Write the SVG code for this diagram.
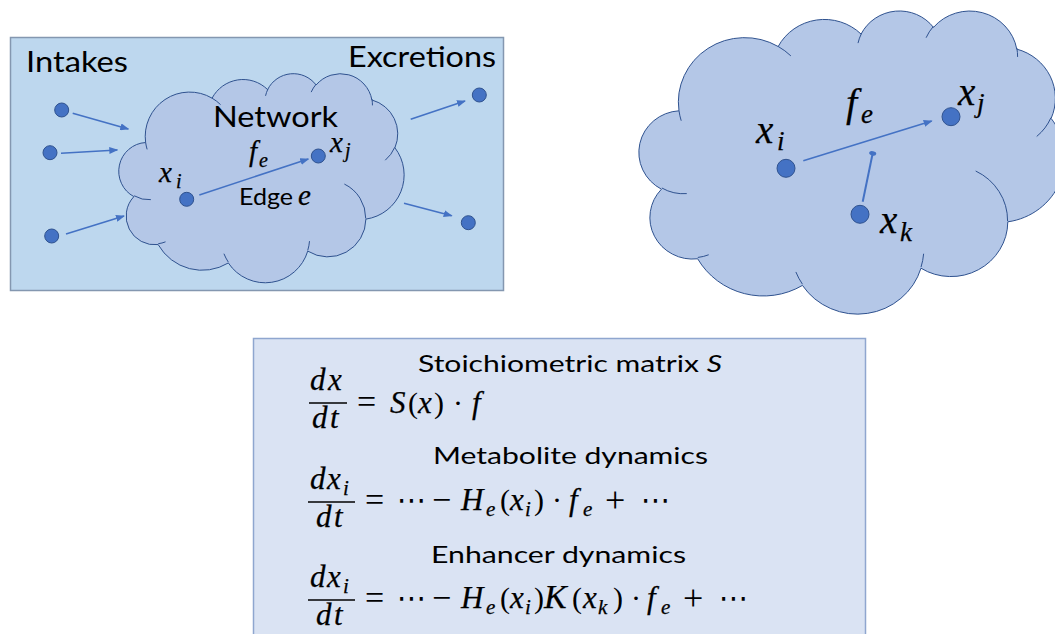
<svg xmlns="http://www.w3.org/2000/svg" width="1055" height="634" viewBox="0 0 1055 634">
  <style>
    .panel { fill: #BDD7EE; stroke: #8497B0; stroke-width: 1.5; }
    .eqbox { fill: #DAE3F3; stroke: #8FA6CF; stroke-width: 1.5; }
    .cloud { fill: #B4C7E7; stroke: #2F528F; }
    .cloud-in { fill: none; stroke: #2F528F; }
    .dot { fill: #4472C4; stroke: #2F528F; stroke-width: 1; }
    .arrow { fill: none; stroke: #4472C4; stroke-width: 1.6; marker-end: url(#tri); }
    .lbl { font-family: Lato, "Liberation Sans", sans-serif; fill: #000; }
    .m { font-family: "Liberation Serif", serif; font-style: italic; fill: #000; stroke: #000; stroke-width: 0.25; }
    .op { font-family: "Liberation Serif", serif; font-style: normal; fill: #000; }
    .dots { font-family: "DejaVu Sans", sans-serif; fill: #000; }
    .bar { stroke: #000; stroke-width: 1.6; }
  </style>
  <defs>
    <marker id="tri" markerUnits="userSpaceOnUse" markerWidth="9" markerHeight="7" refX="8" refY="3.5" orient="auto">
      <path d="M0,0 L9,3.5 L0,7 Z" fill="#4472C4"/>
    </marker>
    <marker id="oval" markerUnits="userSpaceOnUse" markerWidth="8" markerHeight="10" refX="4" refY="5" orient="auto">
      <ellipse cx="4" cy="5" rx="2.2" ry="3.6" fill="#4472C4"/>
    </marker>
    <!-- cloud outline in a 43200 x 43200 frame; stroke stays 1px after scaling -->
    <path id="cloudShape" vector-effect="non-scaling-stroke" stroke-width="1" d="M3900,14370 A6753,9190 0 0 1 14005,5202 A5333,7267 0 0 1 22455,3432 A4365,5945 0 0 1 29832,2480 A4857,6595 0 0 1 38317,5576 A5333,7273 0 0 1 41818,15459 A6775,9220 0 0 1 37403,30201 A5785,7867 0 0 1 28556,36812 A6752,9215 0 0 1 16481,39265 A7720,10543 0 0 1 5804,35470 A4360,5918 0 0 1 2112,25550 A4345,5945 0 0 1 3900,14370 Z"/>
    <path id="cloudInner" vector-effect="non-scaling-stroke" stroke-width="1" d="M4693,26177 A4345,5945 0 0 1 2159,25380 M6928,34899 A4360,5918 0 0 1 5819,35281 M16478,39090 A6752,9215 0 0 1 15810,37348 M28827,34751 A6752,9215 0 0 1 28561,36659 M34129,22954 A5785,7867 0 0 1 37381,30090 M41798,15354 A5333,7273 0 0 1 40349,18031 M38324,5426 A4857,6595 0 0 1 38400,6690 M29078,3952 A4857,6595 0 0 1 29820,2340 M22141,4720 A4365,5945 0 0 1 22500,3331 M14000,5192 A6753,9190 0 0 1 15300,6541 M4127,15789 A6753,9190 0 0 1 3901,14371"/>
  </defs>

  <!-- Left panel: network with intakes and excretions -->
  <g id="network-panel">
    <rect class="panel" x="10.5" y="37.5" width="493" height="253"/>
    <text class="lbl" x="26" y="72" font-size="28" textLength="102" lengthAdjust="spacingAndGlyphs">Intakes</text>
    <text class="lbl" x="348" y="67" font-size="28" textLength="148" lengthAdjust="spacingAndGlyphs">Excretions</text>
  </g>

  <g id="network-cloud">
    <g transform="translate(120,73) scale(0.0065741,0.0048380)">
      <use href="#cloudShape" class="cloud"/>
      <use href="#cloudInner" class="cloud-in"/>
    </g>
    <text class="lbl" x="213" y="127" font-size="28" textLength="125" lengthAdjust="spacingAndGlyphs">Network</text>
    <text class="lbl" x="239" y="205" font-size="23" textLength="54" lengthAdjust="spacingAndGlyphs">Edge</text>
    <text class="m" x="298" y="205" font-size="29">e</text>
    <text class="m" x="249" y="161" font-size="29">f<tspan x="259" y="167" font-size="20">e</tspan></text>
  </g>

  <g id="intake-1"><circle class="dot" cx="61.7" cy="110" r="7"/></g>
  <g id="intake-2"><circle class="dot" cx="50" cy="152.7" r="7"/></g>
  <g id="intake-3"><circle class="dot" cx="51.7" cy="236" r="7"/></g>
  <g id="excretion-1"><circle class="dot" cx="479.3" cy="95" r="7"/></g>
  <g id="excretion-2"><circle class="dot" cx="468.3" cy="222.7" r="7"/></g>
  <g id="node-xi">
    <circle class="dot" cx="186.7" cy="199.3" r="7"/>
    <text class="m" x="159" y="182" font-size="29">x<tspan x="176" y="188" font-size="20">i</tspan></text>
  </g>
  <g id="node-xj">
    <circle class="dot" cx="318.3" cy="156" r="7"/>
    <text class="m" x="330" y="152" font-size="29">x<tspan x="345" y="157" font-size="20">j</tspan></text>
  </g>

  <!-- Right panel: enhanced edge -->
  <g id="detail-cloud">
    <g transform="translate(640.7,10) scale(0.0098148,0.0070139)">
      <use href="#cloudShape" class="cloud"/>
      <use href="#cloudInner" class="cloud-in"/>
    </g>
    <text class="m" x="846" y="116" font-size="40">f<tspan x="861" y="123" font-size="27">e</tspan></text>
  </g>
  <g id="detail-xi">
    <circle class="dot" cx="786" cy="168.3" r="9"/>
    <text class="m" x="756" y="143" font-size="39">x<tspan x="777" y="150" font-size="27">i</tspan></text>
  </g>
  <g id="detail-xj">
    <circle class="dot" cx="951" cy="116.7" r="9"/>
    <text class="m" x="958" y="105" font-size="39">x<tspan x="977" y="112" font-size="27">j</tspan></text>
  </g>
  <g id="detail-xk">
    <circle class="dot" cx="860" cy="214.3" r="9"/>
    <text class="m" x="880" y="233" font-size="39">x<tspan x="900" y="241" font-size="27">k</tspan></text>
  </g>

  <!-- Connectors -->
  <g id="connectors">
    <line class="arrow" x1="72.7" y1="113.3" x2="128.3" y2="129"/>
    <line class="arrow" x1="61" y1="153.3" x2="117.3" y2="150"/>
    <line class="arrow" x1="66" y1="234" x2="124" y2="216"/>
    <line class="arrow" x1="199.3" y1="195" x2="308.3" y2="159"/>
    <line class="arrow" x1="410.7" y1="119.3" x2="465" y2="101"/>
    <line class="arrow" x1="404" y1="203.3" x2="451.7" y2="215.7"/>
    <line class="arrow" x1="803.3" y1="160.7" x2="931.7" y2="121" stroke-width="2"/>
    <line x1="862.7" y1="201.7" x2="872.7" y2="153.3" stroke="#4472C4" stroke-width="2" marker-end="url(#oval)"/>
  </g>

  <!-- Equations -->
  <g id="equations">
    <rect class="eqbox" x="253.5" y="338.5" width="612" height="310"/>

    <text class="lbl" x="418" y="372" font-size="23" textLength="304" lengthAdjust="spacingAndGlyphs">Stoichiometric matrix <tspan font-style="italic">S</tspan></text>
    <text class="m" x="310" y="390" font-size="31">d<tspan x="328">x</tspan></text>
    <line class="bar" x1="309" y1="403" x2="347" y2="403"/>
    <text class="m" x="312" y="428" font-size="31">d<tspan x="330">t</tspan></text>
    <text class="op" x="357" y="413" font-size="34">=</text>
    <text class="m" x="390" y="413" font-size="31">S</text>
    <text class="op" x="408" y="413" font-size="30">(</text>
    <text class="m" x="418" y="413" font-size="31">x</text>
    <text class="op" x="434" y="413" font-size="30">)</text>
    <text class="op" x="453" y="413" font-size="30">·</text>
    <text class="m" x="472" y="413" font-size="31">f</text>

    <text class="lbl" x="433" y="464" font-size="23" textLength="275" lengthAdjust="spacingAndGlyphs">Metabolite dynamics</text>
    <text class="m" x="310" y="489" font-size="31">d<tspan x="327">x</tspan><tspan x="343" y="495" font-size="21">i</tspan></text>
    <line class="bar" x1="308" y1="502" x2="355" y2="502"/>
    <text class="m" x="316" y="527" font-size="31">d<tspan x="334">t</tspan></text>
    <text class="op" x="365" y="511" font-size="34">=</text>
    <text class="dots" x="397" y="510" font-size="29">⋯</text>
    <text class="op" x="432" y="511" font-size="34">−</text>
    <text class="m" x="461" y="510" font-size="31">H<tspan x="486" y="516" font-size="21">e</tspan></text>
    <text class="op" x="500" y="510" font-size="30">(</text>
    <text class="m" x="510" y="510" font-size="31">x<tspan x="525" y="516" font-size="21">i</tspan></text>
    <text class="op" x="534" y="510" font-size="30">)</text>
    <text class="op" x="552" y="510" font-size="30">·</text>
    <text class="m" x="569" y="510" font-size="31">f<tspan x="583" y="516" font-size="21">e</tspan></text>
    <text class="op" x="605" y="512" font-size="36">+</text>
    <text class="dots" x="641" y="510" font-size="29">⋯</text>

    <text class="lbl" x="431" y="563" font-size="23" textLength="255" lengthAdjust="spacingAndGlyphs">Enhancer dynamics</text>
    <text class="m" x="310" y="587" font-size="31">d<tspan x="327">x</tspan><tspan x="343" y="593" font-size="21">i</tspan></text>
    <line class="bar" x1="308" y1="600" x2="355" y2="600"/>
    <text class="m" x="316" y="625" font-size="31">d<tspan x="334">t</tspan></text>
    <text class="op" x="365" y="609" font-size="34">=</text>
    <text class="dots" x="397" y="608" font-size="29">⋯</text>
    <text class="op" x="432" y="609" font-size="34">−</text>
    <text class="m" x="461" y="608" font-size="31">H<tspan x="486" y="614" font-size="21">e</tspan></text>
    <text class="op" x="500" y="608" font-size="30">(</text>
    <text class="m" x="510" y="608" font-size="31">x<tspan x="525" y="614" font-size="21">i</tspan></text>
    <text class="op" x="534" y="608" font-size="30">)</text>
    <text class="m" x="544" y="608" font-size="34">K</text>
    <text class="op" x="572" y="608" font-size="30">(</text>
    <text class="m" x="583" y="608" font-size="31">x<tspan x="598" y="614" font-size="21">k</tspan></text>
    <text class="op" x="613" y="608" font-size="30">)</text>
    <text class="op" x="631" y="608" font-size="30">·</text>
    <text class="m" x="647" y="608" font-size="31">f<tspan x="661" y="614" font-size="21">e</tspan></text>
    <text class="op" x="683" y="610" font-size="36">+</text>
    <text class="dots" x="719" y="608" font-size="29">⋯</text>
  </g>
</svg>
